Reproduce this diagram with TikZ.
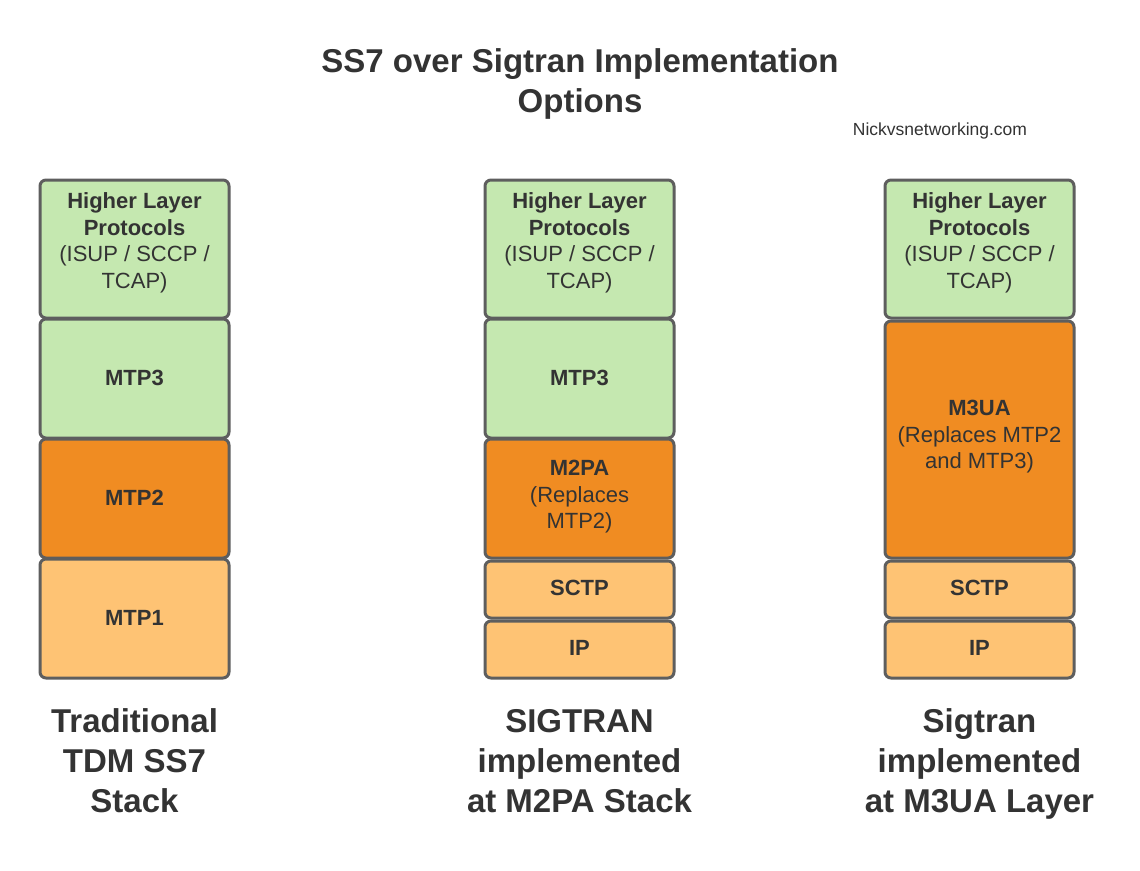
\documentclass[tikz,border=0pt]{standalone}
\usepackage{fontspec}
\setmainfont{Liberation Sans}
\definecolor{lgreen}{HTML}{C5E8B0}
\definecolor{dorange}{HTML}{F08C22}
\definecolor{lorange}{HTML}{FEC374}
\definecolor{bord}{HTML}{5E5E5E}
\definecolor{txt}{HTML}{333333}
\tikzset{
  layer/.style={draw=bord, line width=3pt, rounded corners=6pt},
  boxtext/.style={text=txt, align=center, font=\fontsize{22}{26.5}\selectfont, inner sep=0pt},
  boxbold/.style={text=txt, align=center, font=\bfseries\fontsize{22}{26.5}\selectfont, inner sep=0pt},
  biglabel/.style={text=txt, align=center, font=\bfseries\fontsize{33}{40}\selectfont, inner sep=0pt},
}
\begin{document}
\begin{tikzpicture}[x=1pt,y=-1pt]
\useasboundingbox (0,0) rectangle (1140,870);
\fill[white] (0,0) rectangle (1140,870);
% title
\node[biglabel] (title) at (580,84) {\strut SS7 over Sigtran Implementation\\Options\strut};
\node[text=txt, font=\fontsize{17.5}{21}\selectfont, inner sep=0pt, anchor=base] (site) at (940,135) {Nickvsnetworking.com};

% Column 1
\path[layer, fill=lgreen] (40,180) rectangle (229,318);
\path[layer, fill=lgreen] (40,319) rectangle (229,438);
\path[layer, fill=dorange] (40,439) rectangle (229,558);
\path[layer, fill=lorange] (40,559) rectangle (229,678);
\node[boxtext] (a1) at (134.5,243) {\strut\textbf{Higher Layer}\\\textbf{Protocols}\\(ISUP / SCCP /\\TCAP)\strut};
\node[boxbold] (a2) at (134.5,378) {MTP3};
\node[boxbold] (a3) at (134.5,498) {MTP2};
\node[boxbold] (a4) at (134.5,618) {MTP1};
\node[biglabel] (la) at (134.5,764) {\strut Traditional\\TDM SS7\\Stack\strut};

% Column 2
\path[layer, fill=lgreen] (485,180) rectangle (674,318);
\path[layer, fill=lgreen] (485,319) rectangle (674,438);
\path[layer, fill=dorange] (485,439) rectangle (674,558);
\path[layer, fill=lorange] (485,561) rectangle (674,618);
\path[layer, fill=lorange] (485,621) rectangle (674,678);
\node[boxtext] (b1) at (579.5,243) {\strut\textbf{Higher Layer}\\\textbf{Protocols}\\(ISUP / SCCP /\\TCAP)\strut};
\node[boxbold] (b2) at (579.5,378) {MTP3};
\node[boxtext] (b3) at (579.5,497) {\strut\textbf{M2PA}\\(Replaces\\MTP2)\strut};
\node[boxbold] (b4) at (579.5,588) {SCTP};
\node[boxbold] (b5) at (579.5,648) {IP};
\node[biglabel] (lb) at (579.5,764) {\strut SIGTRAN\\implemented\\at M2PA Stack\strut};

% Column 3
\path[layer, fill=lgreen] (885,180) rectangle (1074,318);
\path[layer, fill=dorange] (885,321) rectangle (1074,558);
\path[layer, fill=lorange] (885,561) rectangle (1074,618);
\path[layer, fill=lorange] (885,621) rectangle (1074,678);
\node[boxtext] (c1) at (979.5,243) {\strut\textbf{Higher Layer}\\\textbf{Protocols}\\(ISUP / SCCP /\\TCAP)\strut};
\node[boxtext] (c2) at (979.5,437) {\strut\textbf{M3UA}\\(Replaces MTP2\\and MTP3)\strut};
\node[boxbold] (c3) at (979.5,588) {SCTP};
\node[boxbold] (c4) at (979.5,648) {IP};
\node[biglabel] (lc) at (979.5,764) {\strut Sigtran\\implemented\\at M3UA Layer\strut};
\end{tikzpicture}
\end{document}
